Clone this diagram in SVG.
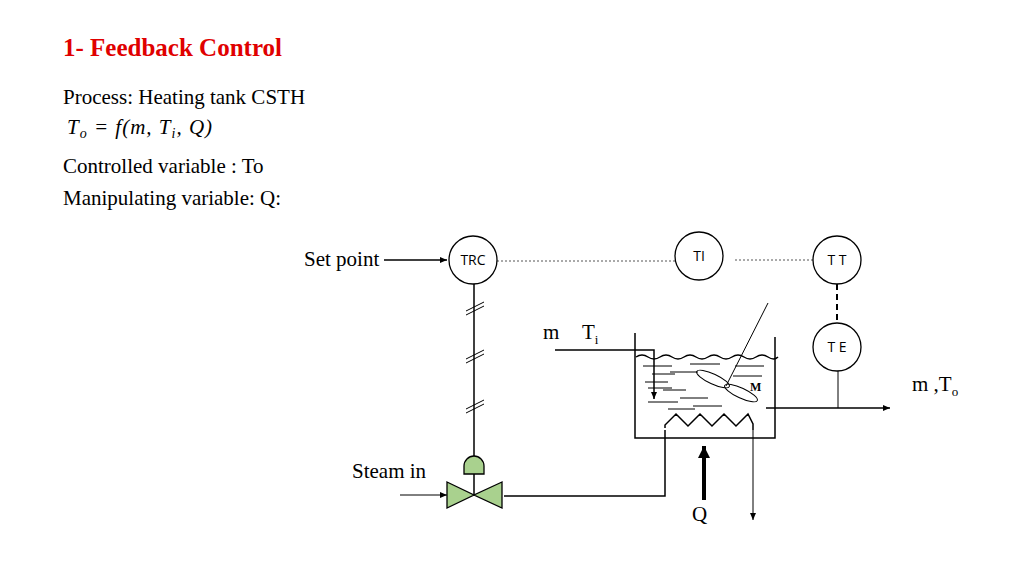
<svg xmlns="http://www.w3.org/2000/svg" width="1024" height="575" viewBox="0 0 1024 575">
<defs>
<marker id="ah" markerWidth="8" markerHeight="8" refX="7" refY="4" orient="auto" markerUnits="userSpaceOnUse"><path d="M0,1 L7,4 L0,7 Z" fill="#000"/></marker>
<marker id="ahb" markerWidth="14" markerHeight="14" refX="12" refY="7" orient="auto" markerUnits="userSpaceOnUse"><path d="M0,1 L12,7 L0,13 Z" fill="#000"/></marker>
</defs>
<style>
.t{font-family:"Liberation Serif",serif;font-size:21px;fill:#000}
.s{font-family:"Open Sans","Noto Sans",sans-serif;font-size:14px;fill:#000}
.ln{stroke:#000;stroke-width:1.5;fill:none}
.th{stroke:#000;stroke-width:1;fill:none}
.c{fill:#fff;stroke:#000;stroke-width:1.3}
.g{fill:#a9d18e;stroke:#000;stroke-width:1.3}
</style>
<rect width="1024" height="575" fill="#fff"/>
<text x="63" y="56" style="font-family:'Liberation Serif',serif;font-size:25px;font-weight:bold;fill:#e00000">1- Feedback Control</text>
<text x="63" y="104" class="t">Process: Heating tank CSTH</text>
<text x="67" y="134" class="t" font-style="italic" letter-spacing="1">T<tspan font-size="14" dy="4">o</tspan><tspan dy="-4"> = f(m, T</tspan><tspan font-size="14" dy="4">i</tspan><tspan dy="-4">, Q)</tspan></text>
<text x="63" y="173" class="t">Controlled variable : To</text>
<text x="63" y="205" class="t">Manipulating variable: Q:</text>
<text x="304" y="266" class="t" font-size="19">Set point</text>
<text x="352" y="478" class="t" font-size="19">Steam in</text>
<text x="543" y="339" class="t" font-size="24">m</text>
<text x="582" y="339" class="t" font-size="24">T<tspan font-size="13" dy="5">i</tspan></text>
<text x="912" y="391" class="t" font-size="22">m ,T<tspan font-size="13" dy="5">o</tspan></text>
<text x="692" y="521" class="t" font-size="15">Q</text>
<g id="connectors">
<line x1="384" y1="260" x2="447" y2="260" class="ln" marker-end="url(#ah)"/>
<line x1="497" y1="261" x2="676" y2="261" stroke="#555" stroke-width="1" stroke-dasharray="2,2"/>
<line x1="735" y1="260" x2="813" y2="260" stroke="#555" stroke-width="1" stroke-dasharray="2,2"/>
<line x1="837" y1="284" x2="837" y2="323" stroke="#000" stroke-width="2" stroke-dasharray="6,4"/>
<line x1="474" y1="284" x2="474" y2="458" class="ln"/>
<g class="th"><line x1="466" y1="311" x2="484" y2="302"/><line x1="466" y1="315" x2="484" y2="306"/>
<line x1="466" y1="359" x2="484" y2="350"/><line x1="466" y1="363" x2="484" y2="354"/>
<line x1="466" y1="409" x2="484" y2="400"/><line x1="466" y1="413" x2="484" y2="404"/></g>
<line x1="400" y1="495" x2="447" y2="495" class="th" marker-end="url(#ah)"/>
<polyline points="504,496 665,496 665,430" class="ln"/>
<line x1="753" y1="430" x2="753" y2="520" class="th" marker-end="url(#ah)"/>
<line x1="704" y1="500" x2="704" y2="446" stroke="#000" stroke-width="4" marker-end="url(#ahb)"/>
<polyline points="555,350 654,350 654,399" class="ln" marker-end="url(#ah)"/>
<line x1="766" y1="408" x2="890" y2="408" class="ln" marker-end="url(#ah)"/>
<line x1="838" y1="371" x2="838" y2="408" class="th"/>
</g>
<g id="tank">
<polyline points="635,333 635,438 775,438 775,337" class="ln"/>
<path d="M636,357 q6,-4 12,0 t12,0 t12,0 t12,0 t12,0 t12,0 t12,0 t12,0 t12,0 t12,0 t12,0 t10,0" class="ln"/>
<g class="th">
<line x1="643" y1="366" x2="672" y2="366"/><line x1="690" y1="364" x2="720" y2="364"/><line x1="735" y1="366" x2="764" y2="366"/>
<line x1="652" y1="374" x2="675" y2="374"/><line x1="670" y1="372" x2="698" y2="372"/><line x1="733" y1="376" x2="762" y2="376"/>
<line x1="645" y1="382" x2="668" y2="382"/><line x1="663" y1="390" x2="686" y2="390"/>
<line x1="648" y1="388" x2="672" y2="388"/><line x1="680" y1="398" x2="708" y2="398"/>
<line x1="648" y1="402" x2="678" y2="402"/><line x1="693" y1="406" x2="722" y2="406"/>
<line x1="668" y1="409" x2="695" y2="409"/>
</g>
<line x1="768" y1="303" x2="726" y2="386" class="th"/>
<ellipse cx="713" cy="379" rx="18" ry="5" transform="rotate(25 713 379)" class="th"/>
<ellipse cx="741" cy="393" rx="18" ry="5" transform="rotate(25 741 393)" class="th"/>
<text x="750" y="391" style="font-family:'Liberation Serif',serif;font-size:12px;font-weight:bold">M</text>
<polyline points="665,428 665,425 676,414 688,426 700,414 712,426 724,414 736,426 748,414 753,424 753,430" class="ln"/>
</g>
<g id="TRC"><circle cx="473" cy="260" r="24" class="c"/><text x="473" y="265" class="s" text-anchor="middle">TRC</text></g>
<g id="TI"><circle cx="699" cy="256" r="24" class="c"/><text x="699" y="261" class="s" text-anchor="middle">TI</text></g>
<g id="TT"><circle cx="837" cy="260" r="24" class="c"/><text x="837" y="265" class="s" text-anchor="middle">T T</text></g>
<g id="TE"><circle cx="837" cy="347" r="24" class="c"/><text x="837" y="352" class="s" text-anchor="middle">T E</text></g>
<g id="valve">
<path d="M464,474 v-8 a10,10 0 0 1 20,0 v8 Z" class="g"/>
<line x1="474" y1="474" x2="474" y2="495" class="ln"/>
<polygon points="447,482 474,495 447,508" class="g"/>
<polygon points="502,482 474,495 502,508" class="g"/>
</g>
</svg>
